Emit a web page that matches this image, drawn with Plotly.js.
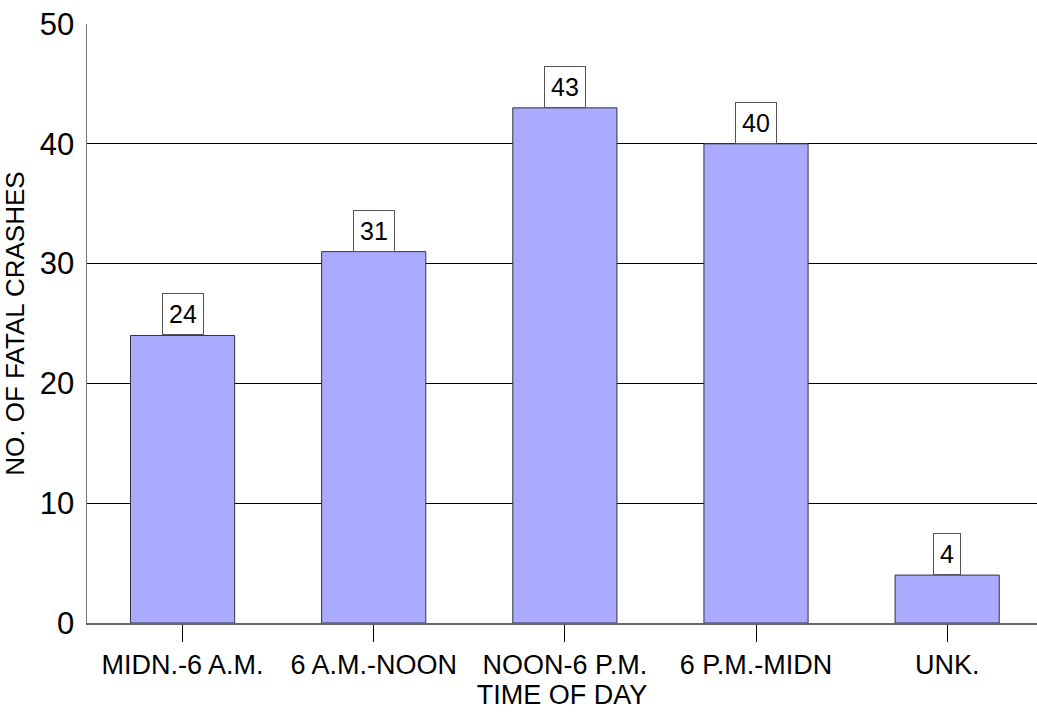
<!DOCTYPE html>
<html>
<head>
<meta charset="utf-8">
<script src="https://cdn.plot.ly/plotly-3.0.1.min.js"></script>
<style>html,body{margin:0;padding:0;background:#fff;}#chart{width:1037px;height:719px;}</style>
</head>
<body>
<div id="chart"></div>
<script>
const categories = ["MIDN.-6 A.M.", "6 A.M.-NOON", "NOON-6 P.M.", "6 P.M.-MIDN", "UNK."];
const crashes = [24, 31, 43, 40, 4];

const trace = {
  type: "bar",
  x: categories,
  y: crashes,
  width: 0.545,
  marker: {color: "#aaaaff", line: {color: "#333344", width: 1}},
  hoverinfo: "x+y"
};

const annotations = categories.map((c, i) => ({
  x: c, y: crashes[i], xref: "x", yref: "y",
  text: String(crashes[i]),
  showarrow: false, yanchor: "bottom", yshift: 0,
  font: {family: "Liberation Sans, Arial, sans-serif", size: 25, color: "#000"},
  bgcolor: "#ffffff", bordercolor: "#555555", borderwidth: 1, borderpad: 6
}));

const layout = {
  width: 1037, height: 719,
  margin: {l: 87, r: 0, t: 24, b: 96},
  paper_bgcolor: "#fff", plot_bgcolor: "#fff",
  font: {family: "Liberation Sans, Arial, sans-serif", color: "#000"},
  showlegend: false,
  xaxis: {
    type: "category",
    range: [-0.5, 4.47],
    ticks: "outside", ticklen: 17, tickcolor: "#000", tickwidth: 1,
    tickfont: {size: 27},
    showline: true, linecolor: "#666", linewidth: 1.5,
    title: {text: "TIME OF DAY", font: {size: 27}, standoff: 0},
    fixedrange: true
  },
  yaxis: {
    range: [0, 50],
    tickvals: [0, 10, 20, 30, 40, 50],
    tickfont: {size: 31},
    ticks: "",
    ticklabelstandoff: 5,
    showgrid: true, gridcolor: "#000", gridwidth: 1,
    zeroline: false,
    showline: true, linecolor: "#777", linewidth: 1.5,
    title: {text: "NO. OF FATAL CRASHES", font: {size: 26}, standoff: 10},
    fixedrange: true
  },
  annotations: annotations
};

Plotly.newPlot("chart", [trace], layout, {displayModeBar: false, staticPlot: true});
</script>
</body>
</html>
